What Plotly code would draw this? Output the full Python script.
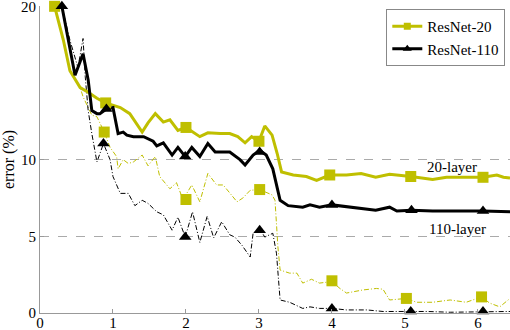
import plotly.graph_objects as go

# colours
olive = "#bfbf00"
black = "#000000"

# ResNet-20 test error (thick)
r20_test_x = [0.2, 0.32, 0.41, 0.55, 0.66, 0.78, 0.9, 1.1, 1.23, 1.4, 1.48, 1.58, 1.69, 1.78, 1.89, 2.0,
              2.19, 2.3, 2.47, 2.6, 2.71, 2.81, 2.9, 3.0, 3.08, 3.18, 3.25, 3.31, 3.47, 3.65, 3.79, 3.97,
              4.2, 4.4, 4.6, 4.79, 5.08, 5.38, 5.57, 5.85, 6.07, 6.26, 6.35, 6.44]
r20_test_y = [20, 17.8, 15.8, 14.7, 14.4, 14.0, 13.7, 13.4, 13.0, 11.8, 12.4, 13.0, 12.45, 12.6, 11.9, 12.1,
              11.5, 11.75, 11.7, 11.7, 11.5, 11.1, 11.5, 11.2, 12.2, 11.6, 10.4, 9.2, 9.0, 8.9, 8.65, 9.0,
              9.0, 9.1, 8.85, 9.05, 8.9, 8.7, 8.85, 8.85, 8.85, 9.0, 8.85, 8.8]

# ResNet-20 training error (thin dash-dot)
r20_train_x = [0.2, 0.32, 0.41, 0.55, 0.59, 0.71, 0.78, 0.88, 0.96, 1.05, 1.07, 1.14, 1.21, 1.28, 1.4,
               1.48, 1.58, 1.64, 1.78, 1.87, 1.96, 2.08, 2.19, 2.3, 2.42, 2.51, 2.7, 2.78, 2.88, 3.01,
               3.18, 3.22, 3.26, 3.29, 3.42, 3.52, 3.6, 3.72, 3.83, 4.0, 4.11, 4.2, 4.42, 4.61, 4.7,
               4.79, 5.02, 5.16, 5.38, 5.62, 5.84, 6.05, 6.16, 6.3, 6.44]
r20_train_y = [20, 17.8, 15.8, 14.7, 14.1, 12.9, 12.8, 11.8, 10.8, 10.2, 9.4, 10.0, 9.75, 9.85, 10.3,
               9.6, 10.2, 8.9, 8.1, 8.5, 7.4, 8.35, 7.25, 9.1, 8.35, 8.35, 7.25, 7.5, 8.0, 8.05,
               7.7, 7.35, 4.3, 2.8, 2.6, 2.6, 1.95, 2.2, 1.95, 2.05, 1.6, 1.3, 1.5, 1.6, 1.55,
               0.85, 0.95, 0.7, 0.7, 0.85, 0.7, 1.05, 0.65, 0.4, 0.95]

# ResNet-110 test error (thick)
r110_test_x = [0.3, 0.48, 0.59, 0.66, 0.71, 0.78, 0.82, 0.91, 1.0, 1.07, 1.14, 1.19, 1.28, 1.42, 1.55,
               1.6, 1.69, 1.81, 1.89, 1.99, 2.08, 2.19, 2.3, 2.4, 2.6, 2.74, 2.81, 2.92, 3.01, 3.1,
               3.19, 3.29, 3.4, 3.6, 3.7, 3.83, 4.0, 4.29, 4.6, 4.79, 4.89, 5.09, 5.38, 5.71, 6.07, 6.44]
r110_test_y = [20, 15.5, 16.9, 15.2, 13.2, 13.0, 13.0, 13.3, 13.4, 11.7, 11.8, 11.6, 11.5, 11.5, 11.2,
               10.9, 11.1, 10.3, 10.8, 10.2, 10.8, 10.2, 11.05, 10.5, 10.5, 10.0, 9.65, 10.3, 10.6, 10.3,
               9.4, 7.35, 7.0, 6.9, 7.05, 6.9, 7.05, 6.9, 6.7, 6.9, 6.65, 6.7, 6.65, 6.65, 6.65, 6.6]

# ResNet-110 training error (thin dash-dot)
r110_train_x = [0.3, 0.41, 0.52, 0.59, 0.62, 0.66, 0.71, 0.78, 0.87, 0.96, 1.0, 1.1, 1.21, 1.3, 1.4,
                1.48, 1.6, 1.69, 1.81, 1.89, 1.99, 2.09, 2.19, 2.29, 2.38, 2.49, 2.6, 2.67, 2.77, 2.88,
                2.92, 3.01, 3.08, 3.19, 3.24, 3.29, 3.42, 3.6, 3.7, 3.83, 4.0, 4.2, 4.48, 4.7, 5.02,
                5.3, 5.62, 6.07, 6.44]
r110_train_y = [20, 17.8, 16.0, 17.9, 15.4, 13.2, 11.7, 9.85, 11.05, 10.0, 8.9, 7.8, 7.8, 7.0, 7.35,
                7.15, 6.6, 6.4, 5.4, 6.25, 4.95, 6.6, 4.6, 6.3, 4.9, 5.95, 5.1, 4.95, 4.4, 3.65,
                5.2, 5.5, 4.95, 5.2, 3.9, 0.85, 0.7, 0.3, 0.4, 0.3, 0.3, 0.2, 0.2, 0.1, 0.1,
                0.1, 0.05, 0.1, 0.1]

# marker positions
sq_x = [0.2, 0.9, 2.0, 3.0, 3.97, 5.08, 6.07, 0.88, 2.0, 3.01, 4.0, 5.02, 6.05]
sq_y = [20, 13.7, 12.1, 11.2, 9.0, 8.9, 8.85, 11.8, 7.4, 8.05, 2.1, 0.95, 1.05]
tri_x = [0.3, 0.91, 1.99, 3.01, 4.0, 5.09, 6.07, 0.87, 1.99, 3.01, 4.0, 5.08, 6.07]
tri_y = [20, 13.3, 10.2, 10.5, 7.05, 6.7, 6.65, 11.05, 4.95, 5.4, 0.3, 0.1, 0.1]

serif = "Liberation Serif"
thin_dash = "5px,2px,1px,2px"

fig = go.Figure()
fig.add_trace(go.Scatter(x=r20_train_x, y=r20_train_y, mode="lines", showlegend=False,
                         line=dict(color=olive, width=1, dash=thin_dash)))
fig.add_trace(go.Scatter(x=r110_train_x, y=r110_train_y, mode="lines", showlegend=False,
                         line=dict(color=black, width=1, dash=thin_dash)))
fig.add_trace(go.Scatter(x=r20_test_x, y=r20_test_y, mode="lines", showlegend=False,
                         line=dict(color=olive, width=3)))
fig.add_trace(go.Scatter(x=r110_test_x, y=r110_test_y, mode="lines", showlegend=False,
                         line=dict(color=black, width=3)))
fig.add_trace(go.Scatter(x=sq_x, y=sq_y, mode="markers", showlegend=False, cliponaxis=False,
                         marker=dict(symbol="square", size=11, color=olive)))
fig.add_trace(go.Scatter(x=tri_x, y=tri_y, mode="markers", showlegend=False, cliponaxis=False,
                         marker=dict(symbol="triangle-up", size=11, color=black)))

# legend entries (smaller markers, as in the original legend)
fig.add_trace(go.Scatter(x=[None], y=[None], mode="lines+markers", name="ResNet-20",
                         line=dict(color=olive, width=3),
                         marker=dict(symbol="square", size=7, color=olive)))
fig.add_trace(go.Scatter(x=[None], y=[None], mode="lines+markers", name="ResNet-110",
                         line=dict(color=black, width=3),
                         marker=dict(symbol="triangle-up", size=8, color=black)))

fig.add_annotation(x=5.64, y=9.5, text="20-layer", showarrow=False,
                   font=dict(family=serif, size=15, color="black"))
fig.add_annotation(x=5.72, y=5.45, text="110-layer", showarrow=False,
                   font=dict(family=serif, size=15, color="black"))

fig.update_layout(
    width=510, height=330,
    margin=dict(l=40, r=0, t=6, b=17),
    plot_bgcolor="white", paper_bgcolor="white",
    font=dict(family=serif, size=14, color="black"),
    legend=dict(x=0.99, y=0.99, xanchor="right", yanchor="top",
                bordercolor="#888", borderwidth=1, bgcolor="white", itemwidth=30,
                font=dict(family=serif, size=15), tracegroupgap=0),
)
fig.update_xaxes(range=[0, 6.44], tickvals=[0, 1, 2, 3, 4, 5, 6], showgrid=False, zeroline=False,
                 showline=True, linecolor="#999", linewidth=1, ticks="inside", ticklen=4,
                 tickcolor="#999", tickfont=dict(size=15), automargin=False,
                 ticklabeloverflow="allow", ticklabelstandoff=-4)
fig.update_yaxes(range=[0, 20.02], tickvals=[0, 5, 10, 20], showgrid=True, gridcolor="#aaa",
                 griddash="dash", gridwidth=1, zeroline=False,
                 showline=True, linecolor="#999", linewidth=1, ticks="inside", ticklen=4,
                 tickcolor="#999", tickfont=dict(size=15), automargin=False,
                 ticklabeloverflow="allow",
                 title=dict(text="error (%)", standoff=4, font=dict(size=16)))

# drop the default page margin so the figure sits at the window corner
fig.write_html("out.html", config={"displayModeBar": False},
               post_script="document.body.style.margin='0';")
